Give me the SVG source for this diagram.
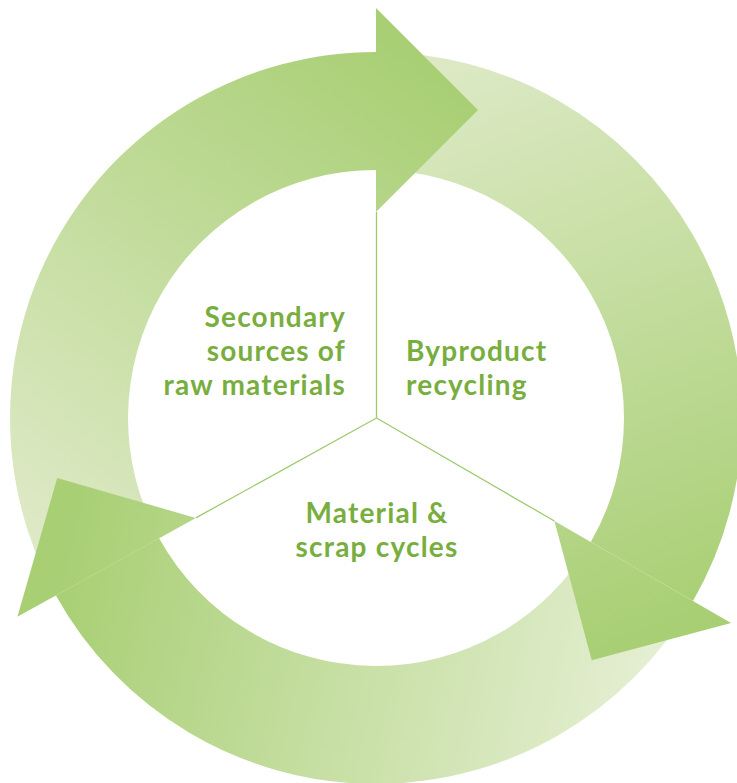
<svg xmlns="http://www.w3.org/2000/svg" width="737" height="783" viewBox="0 0 737 783">
<style>
.lbl{font-family:Lato,"Open Sans","Liberation Sans",sans-serif;font-weight:700;font-size:28px;letter-spacing:1.2px;fill:#78ae3e}
.div{stroke:#9fca6c;stroke-width:1.3;fill:none}
</style>
<defs>
<linearGradient id="gA" gradientUnits="userSpaceOnUse" x1="40" y1="560" x2="420" y2="60">
<stop offset="0" stop-color="#dfeac8"/><stop offset="1" stop-color="#a8cf74"/>
</linearGradient>
<linearGradient id="gB" gradientUnits="userSpaceOnUse" x1="420" y1="80" x2="640" y2="640">
<stop offset="0" stop-color="#dce9c4"/><stop offset="1" stop-color="#a8cf74"/>
</linearGradient>
<linearGradient id="gC" gradientUnits="userSpaceOnUse" x1="640" y1="690" x2="60" y2="560">
<stop offset="0" stop-color="#e4eed1"/><stop offset="1" stop-color="#a8cf74"/>
</linearGradient>
</defs>
<rect width="737" height="783" fill="#ffffff"/>
<g id="arrow-bodies">
<path id="bodyA" fill="url(#gA)" d="M 55.9 595.4 A 366 366 0 0 1 376 52 L 376 170 A 248 248 0 0 0 159.1 538.2 Z"/>
<path id="bodyB" fill="url(#gB)" d="M 376 52 A 366 366 0 0 1 692.97 601 L 590.78 542 A 248 248 0 0 0 376 170 Z"/>
<path id="bodyC" fill="url(#gC)" d="M 692.97 601 A 366 366 0 0 1 55.9 595.4 L 159.1 538.2 A 248 248 0 0 0 590.78 542 Z"/>
</g>
<g id="arrow-heads">
<polygon id="headA" fill="url(#gA)" points="376,8 478,110 376,212"/>
<polygon id="headB" fill="url(#gB)" points="731.1,623 591.7,660.3 554.4,521"/>
<polygon id="headC" fill="url(#gC)" points="17.4,616.8 57.2,478.1 195.8,517.9"/>
</g>
<g id="connectors">
<line class="div" x1="376.5" y1="212" x2="376.5" y2="418"/>
<line class="div" x1="376.5" y1="418" x2="554.4" y2="521"/>
<line class="div" x1="376.5" y1="418" x2="195.8" y2="517.9"/>
</g>
<g id="node-secondary">
<text class="lbl" text-anchor="end" x="346" y="327">Secondary</text>
<text class="lbl" text-anchor="end" x="346" y="361">sources of</text>
<text class="lbl" text-anchor="end" x="346" y="395">raw materials</text>
</g>
<g id="node-byproduct">
<text class="lbl" x="406" y="361">Byproduct</text>
<text class="lbl" x="406" y="395">recycling</text>
</g>
<g id="node-material">
<text class="lbl" text-anchor="middle" x="377" y="523">Material &amp;</text>
<text class="lbl" text-anchor="middle" x="377" y="557">scrap cycles</text>
</g>
</svg>
